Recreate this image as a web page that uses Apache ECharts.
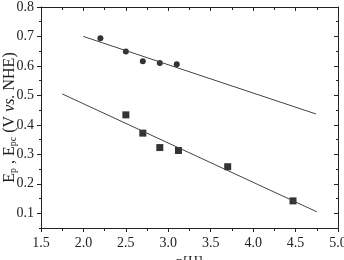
<!DOCTYPE html>
<html>
<head>
<meta charset="utf-8">
<script src="https://cdn.jsdelivr.net/npm/echarts@6/dist/echarts.min.js"></script>
<style>
  html, body { margin: 0; padding: 0; background: #fff; }
  #chart { width: 344px; height: 260px; }
</style>
</head>
<body>
<div id="chart"></div>
<script>
// measured points
var circlePts = [[2.2, 0.694], [2.5, 0.649], [2.7, 0.616], [2.9, 0.610], [3.1, 0.606]];
var squarePts = [[2.5, 0.434], [2.7, 0.372], [2.9, 0.323], [3.12, 0.313], [3.7, 0.258], [4.47, 0.142]];
// fitted lines (end points)
var fitTop = [[2.0, 0.70], [4.74, 0.437]];
var fitBottom = [[1.75, 0.505], [4.75, 0.105]];
var yLabels = [0.1, 0.2, 0.3, 0.4, 0.5, 0.6, 0.7, 0.8];
var yMinor = [0.05, 0.15, 0.25, 0.35, 0.45, 0.55, 0.65, 0.75];

(function() {
  var font = "'Liberation Serif', 'Times New Roman', serif";
  var ink = '#222';
  var chart = echarts.init(document.getElementById('chart'), null, { renderer: 'canvas' });

  function yAx(pos, labels, ticks, len, lineOn, inside) {
    return {
      type: 'value', position: pos, min: 0.05, max: 0.8,
      axisLine: { show: lineOn, lineStyle: { color: ink, width: 1 } },
      axisTick: { show: true, inside: inside, length: len, customValues: ticks, lineStyle: { color: ink } },
      axisLabel: labels ? { show: true, customValues: labels, fontFamily: font, fontSize: 14, color: ink, margin: 7,
        formatter: function(v) { return v.toFixed(1); } } : { show: false },
      splitLine: { show: false }
    };
  }

  var left = yAx('left', yLabels, yLabels, 4, true, false);
  left.name = '{n|E}{s|p}{n| , E}{s|pc}{n| (V }{i|vs.}{n| NHE)}';
  left.nameLocation = 'middle';
  left.nameGap = 23;
  left.nameRotate = 90;
  left.nameMoveOverlap = false;
  left.nameTextStyle = {
    rich: {
      n: { fontFamily: font, fontSize: 16, color: ink },
      i: { fontFamily: font, fontSize: 16, color: ink, fontStyle: 'italic' },
      s: { fontFamily: font, fontSize: 10, color: ink, verticalAlign: 'bottom', padding: [7, 0, 0, 0] }
    }
  };

  function xAx(pos, labelsOn, inside) {
    return {
      type: 'value', position: pos, min: 1.5, max: 5.0, interval: 0.5,
      axisLine: { show: true, onZero: false, lineStyle: { color: ink, width: 1 } },
      axisTick: { show: true, inside: inside, length: 4, lineStyle: { color: ink } },
      minorTick: { show: true, splitNumber: 2, length: 3, lineStyle: { color: ink } },
      axisLabel: labelsOn ? { show: true, fontFamily: font, fontSize: 14, color: ink, margin: 8,
        formatter: function(v) { return v.toFixed(1); } } : { show: false },
      splitLine: { show: false }
    };
  }

  var bottom = xAx('bottom', true, false);
  bottom.name = 'p[H]';
  bottom.nameLocation = 'middle';
  bottom.nameGap = 27;
  bottom.nameMoveOverlap = false;
  bottom.nameTextStyle = { fontFamily: font, fontSize: 14, color: ink };

  chart.setOption({
    animation: false,
    backgroundColor: '#fff',
    grid: { left: 41, right: 6, top: 7, bottom: 32, containLabel: false, outerBoundsMode: 'none' },
    xAxis: [bottom, xAx('top', false, true)],
    yAxis: [
      left,
      yAx('left', null, yMinor, 2, false, false),
      yAx('right', null, yLabels, 4, true, true),
      yAx('right', null, yMinor, 2, false, true)
    ],
    series: [
      { type: 'line', data: fitTop, symbol: 'none', lineStyle: { color: '#444', width: 1 } },
      { type: 'line', data: fitBottom, symbol: 'none', lineStyle: { color: '#444', width: 1 } },
      { type: 'scatter', data: circlePts, symbol: 'circle', symbolSize: 6, itemStyle: { color: '#000' } },
      { type: 'scatter', data: squarePts, symbol: 'rect', symbolSize: 7, itemStyle: { color: '#000' } }
    ]
  });
  window.addEventListener('resize', function() { chart.resize(); });
})();
</script>
</body>
</html>
